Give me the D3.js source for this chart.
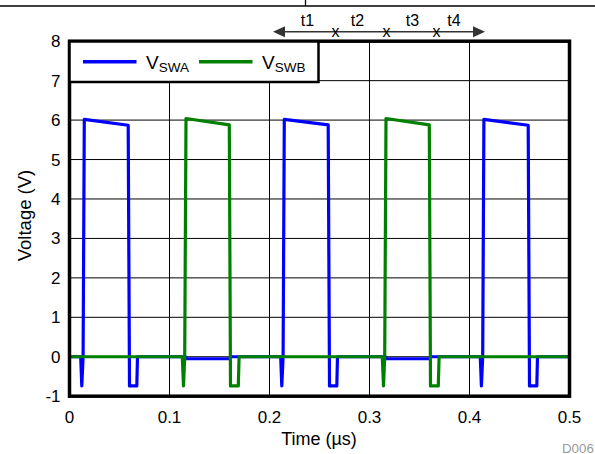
<!DOCTYPE html>
<html><head><meta charset="utf-8">
<script src="https://cdn.jsdelivr.net/npm/d3@7"></script>
<style>body{margin:0;background:#fff}svg{display:block}text{font-family:"Liberation Sans",Arial,sans-serif}</style>
</head><body>
<svg id="c" width="595" height="454"></svg>
<script>
// Data
const xTicks = [0, 0.1, 0.2, 0.3, 0.4, 0.5];
const xTickLabels = ["0", "0.1", "0.2", "0.3", "0.4", "0.5"];
const yTicks = [-1, 0, 1, 2, 3, 4, 5, 6, 7, 8];
const yTickLabels = ["-1", "0", "1", "2", "3", "4", "5", "6", "7", "8"];
const swaTime = [0, 0.0112, 0.0123, 0.0136, 0.0148, 0.0587, 0.0600, 0.0673, 0.0680, 0.1160, 0.1170, 0.1600, 0.1615,
  0.2112, 0.2123, 0.2136, 0.2148, 0.2587, 0.2600, 0.2673, 0.2680, 0.3160, 0.3170, 0.3600, 0.3615,
  0.4108, 0.4119, 0.4132, 0.4144, 0.4587, 0.4600, 0.4673, 0.4680, 0.5];
const swaVolt = [0, 0, -0.74, 0, 6.02, 5.87, -0.74, -0.74, 0, 0, -0.05, -0.05, 0,
  0, -0.74, 0, 6.02, 5.88, -0.74, -0.74, 0, 0, -0.05, -0.05, 0,
  0, -0.74, 0, 6.02, 5.87, -0.74, -0.74, 0, 0];
const swbTime = [0, 0.1128, 0.1140, 0.1152, 0.1165, 0.1598, 0.1610, 0.1688, 0.1696,
  0.3128, 0.3140, 0.3152, 0.3165, 0.3598, 0.3610, 0.3688, 0.3696, 0.5];
const swbVolt = [0, 0, -0.74, 0, 6.04, 5.88, -0.74, -0.74, 0,
  0, -0.74, 0, 6.04, 5.88, -0.74, -0.74, 0, 0];
const seriesNames = ["SWA", "SWB"];
const seriesColors = ["#0000ff", "#008000"];
const phaseLabels = ["t1", "t2", "t3", "t4"];
const phaseLabelTimes = [0.238, 0.288, 0.343, 0.3845];
const phaseMarkTimes = [0.266, 0.317, 0.367];

const svg = d3.select("#c");
const x = d3.scaleLinear().domain([0, 0.5]).range([69.5, 569.5]);
const y = d3.scaleLinear().domain([-1, 8]).range([396.2, 41.2]);

// page artifact at top
svg.append("line").attr("x1", 0).attr("x2", 595).attr("y1", 6).attr("y2", 6).attr("stroke", "#000").attr("stroke-width", 1.3);
svg.append("line").attr("x1", 305.5).attr("x2", 305.5).attr("y1", 0).attr("y2", 6).attr("stroke", "#000").attr("stroke-width", 1.3);

// gridlines
const grid = svg.append("g");
grid.selectAll(".gx").data(xTicks.slice(1, -1)).join("line")
  .attr("x1", d => x(d)).attr("x2", d => x(d)).attr("y1", y(8)).attr("y2", y(-1))
  .attr("stroke", "#000").attr("stroke-width", 1);
grid.selectAll(".gy").data(yTicks.slice(1, -1)).join("line")
  .attr("x1", x(0)).attr("x2", x(0.5)).attr("y1", d => y(d)).attr("y2", d => y(d))
  .attr("stroke", "#000").attr("stroke-width", 1);

// clip
svg.append("clipPath").attr("id", "clip").append("rect")
  .attr("x", x(0)).attr("y", y(8)).attr("width", x(0.5) - x(0)).attr("height", y(-1) - y(8));

const line = d3.line().x(d => x(d[0])).y(d => y(d[1]));
const dataA = swaTime.map((t, i) => [t, swaVolt[i]]);
const dataB = swbTime.map((t, i) => [t, swbVolt[i]]);
const plot = svg.append("g").attr("clip-path", "url(#clip)");
plot.append("path").datum(dataA).attr("d", line).attr("fill", "none").attr("stroke", seriesColors[0]).attr("stroke-width", 3.2).attr("stroke-linejoin", "round");
plot.append("path").datum(dataB).attr("d", line).attr("fill", "none").attr("stroke", seriesColors[1]).attr("stroke-width", 3.2).attr("stroke-linejoin", "round");

// border
svg.append("rect").attr("x", x(0)).attr("y", y(8)).attr("width", x(0.5) - x(0)).attr("height", y(-1) - y(8))
  .attr("fill", "none").attr("stroke", "#000").attr("stroke-width", 3.5);

// legend
const lg = svg.append("g");
lg.append("rect").attr("x", 69.5).attr("y", 41.5).attr("width", 249).attr("height", 40.5)
  .attr("fill", "#fff").attr("stroke", "#000").attr("stroke-width", 2.5);
const legX = [83, 199];
seriesNames.forEach((n, i) => {
  lg.append("line").attr("x1", legX[i]).attr("x2", legX[i] + 53.5).attr("y1", 61.8).attr("y2", 61.8)
    .attr("stroke", seriesColors[i]).attr("stroke-width", 3.5);
  const t = lg.append("text").attr("x", legX[i] + 63).attr("y", 69.3).attr("font-size", 19).attr("fill", "#000");
  t.append("tspan").text("V");
  t.append("tspan").attr("font-size", 13.5).attr("dy", 2.5).text(n);
});

// axes labels
svg.selectAll(".xt").data(xTicks).join("text")
  .attr("x", d => x(d)).attr("y", 422.5).attr("text-anchor", "middle").attr("font-size", 17).attr("fill", "#000")
  .text((d, i) => xTickLabels[i]);
svg.selectAll(".yt").data(yTicks).join("text")
  .attr("x", 60.5).attr("y", d => y(d) + 6).attr("text-anchor", "end").attr("font-size", 17).attr("fill", "#000")
  .text((d, i) => yTickLabels[i]);
svg.append("text").attr("x", 319).attr("y", 444.5).attr("text-anchor", "middle").attr("font-size", 18).text("Time (µs)");
svg.append("text").attr("transform", "translate(30.5,215.5) rotate(-90)").attr("text-anchor", "middle").attr("font-size", 18.5).text("Voltage (V)");
svg.append("text").attr("x", 562).attr("y", 452.5).attr("font-size", 13.3).attr("fill", "#9a9a9a").text("D006");

// phase annotation
const ay = 31.7;
svg.append("line").attr("x1", 280).attr("x2", 478).attr("y1", ay).attr("y2", ay).attr("stroke", "#333").attr("stroke-width", 1.5);
svg.append("path").attr("d", `M273,${ay} L285,${ay - 5.5} L285,${ay + 5.5} Z`).attr("fill", "#333");
svg.append("path").attr("d", `M485,${ay} L473,${ay - 5.5} L473,${ay + 5.5} Z`).attr("fill", "#333");
svg.selectAll(".pl").data(phaseLabels).join("text")
  .attr("x", (d, i) => x(phaseLabelTimes[i])).attr("y", 25.5).attr("text-anchor", "middle").attr("font-size", 16).text(d => d);
svg.selectAll(".pm").data(phaseMarkTimes).join("text")
  .attr("x", d => x(d)).attr("y", 36.5).attr("text-anchor", "middle").attr("font-size", 16).text("x");
</script>
</body></html>
